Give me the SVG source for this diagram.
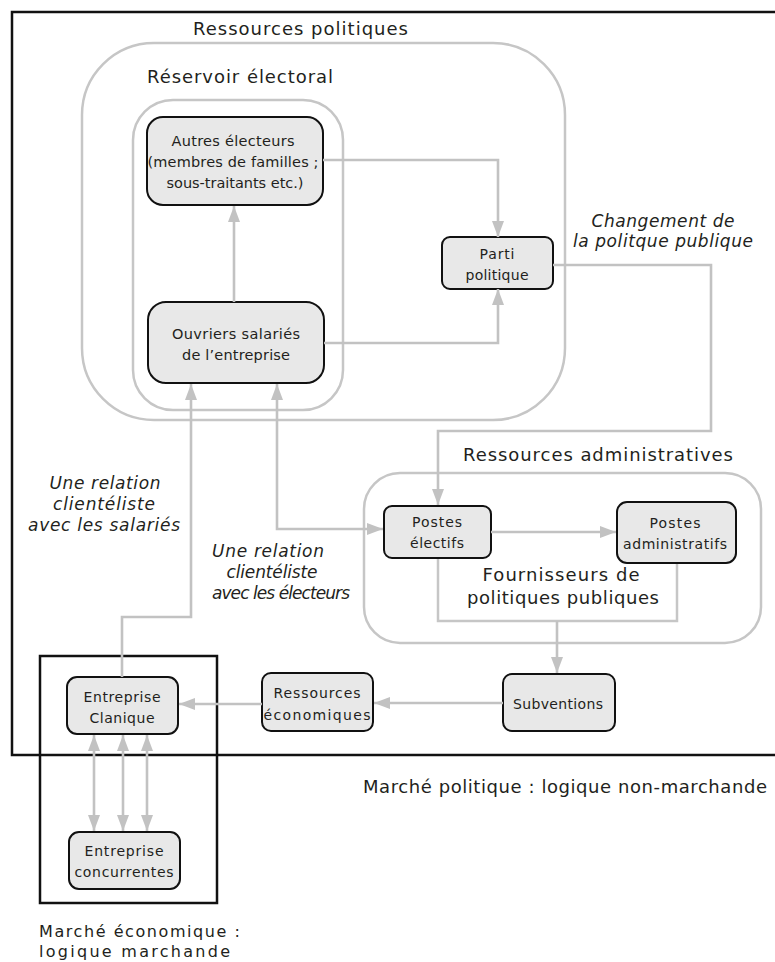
<svg xmlns="http://www.w3.org/2000/svg" width="775" height="962" viewBox="0 0 775 962">
<defs>
<style>
text{font-family:"DejaVu Sans","Liberation Sans",sans-serif;fill:#231f20}
.t{font-size:18px}
.b{font-size:16px}
.n{font-size:14.5px;text-anchor:middle}
.s{font-size:14px;text-anchor:middle}
.i{font-size:17px;font-style:italic;text-anchor:middle}
.frame{fill:none;stroke:#111;stroke-width:2.5}
.zone{fill:none;stroke:#c6c6c6;stroke-width:2.5}
.node{fill:#e8e8e8;stroke:#111;stroke-width:2}
.c{fill:none;stroke:#c2c2c2;stroke-width:2.6;marker-end:url(#ah)}
.d{marker-start:url(#ah)}
</style>
<marker id="ah" viewBox="0 0 16 12" refX="16" refY="6" markerWidth="16" markerHeight="12" markerUnits="userSpaceOnUse" orient="auto-start-reverse">
<path d="M0,0 L16,6 L0,12 z" fill="#c2c2c2"/>
</marker>
</defs>

<g id="frames">
<path class="frame" d="M776,12 H12 V755 H776"/>
<rect class="frame" x="40" y="656" width="177" height="247"/>
<rect id="ressources-politiques" class="zone" x="82" y="43" width="483" height="377" rx="72"/>
<rect id="reservoir" class="zone" x="133" y="100" width="210" height="310" rx="40"/>
<rect id="ressources-admin" class="zone" x="364" y="473" width="397" height="170" rx="36"/>
<path id="fournisseurs" class="zone" d="M438,558 V621 H677 V563"/>
</g>

<g id="labels">
<text class="t" x="193" y="35" textLength="215" lengthAdjust="spacing">Ressources politiques</text>
<text class="t" x="147" y="83" textLength="186" lengthAdjust="spacing">Réservoir électoral</text>
<text class="t" x="463" y="461" textLength="270" lengthAdjust="spacing">Ressources administratives</text>
<text class="t" x="561" y="581" text-anchor="middle" textLength="157" lengthAdjust="spacing">Fournisseurs de</text>
<text class="t" x="563" y="604" text-anchor="middle" textLength="192" lengthAdjust="spacing">politiques publiques</text>
<text class="i" x="663" y="227" textLength="143" lengthAdjust="spacing">Changement de</text>
<text class="i" x="663" y="247" textLength="180" lengthAdjust="spacing">la politque publique</text>
<text class="i" x="105" y="489" textLength="111" lengthAdjust="spacing">Une relation</text>
<text class="i" x="104" y="510" textLength="102" lengthAdjust="spacing">clientéliste</text>
<text class="i" x="104" y="531" textLength="152" lengthAdjust="spacing">avec les salariés</text>
<text class="i" x="268" y="557" textLength="112" lengthAdjust="spacing">Une relation</text>
<text class="i" x="272" y="578" textLength="91" lengthAdjust="spacing">clientéliste</text>
<text class="i" x="281" y="599" textLength="138" lengthAdjust="spacing">avec les électeurs</text>
<text class="t" x="363" y="793" textLength="404" lengthAdjust="spacing">Marché politique : logique non-marchande</text>
<text class="b" x="39" y="937" textLength="201" lengthAdjust="spacing">Marché économique :</text>
<text class="b" x="39" y="957" textLength="191" lengthAdjust="spacing">logique marchande</text>
</g>

<g id="autres-electeurs">
<rect class="node" x="147" y="117" width="176" height="88" rx="16"/>
<text class="n" x="233" y="146" textLength="123" lengthAdjust="spacing">Autres électeurs</text>
<text class="n" x="233" y="167" textLength="171" lengthAdjust="spacing">(membres de familles ;</text>
<text class="n" x="235" y="188" textLength="137" lengthAdjust="spacing">sous-traitants etc.)</text>
</g>

<g id="ouvriers">
<rect class="node" x="148" y="302" width="176" height="81" rx="18"/>
<text class="n" x="236" y="339" textLength="128" lengthAdjust="spacing">Ouvriers salariés</text>
<text class="n" x="236" y="360" textLength="108" lengthAdjust="spacing">de l’entreprise</text>
</g>

<g id="parti">
<rect class="node" x="442" y="237" width="111" height="52" rx="8"/>
<text class="s" x="497" y="259" textLength="35" lengthAdjust="spacing">Parti</text>
<text class="s" x="497" y="280" textLength="63" lengthAdjust="spacing">politique</text>
</g>

<g id="postes-electifs">
<rect class="node" x="384" y="506" width="107" height="52" rx="8"/>
<text class="s" x="437" y="527" textLength="50" lengthAdjust="spacing">Postes</text>
<text class="s" x="437" y="548" textLength="54" lengthAdjust="spacing">électifs</text>
</g>

<g id="postes-administratifs">
<rect class="node" x="617" y="502" width="119" height="61" rx="10"/>
<text class="s" x="675" y="528" textLength="51" lengthAdjust="spacing">Postes</text>
<text class="s" x="675" y="549" textLength="104" lengthAdjust="spacing">administratifs</text>
</g>

<g id="subventions">
<rect class="node" x="503" y="674" width="112" height="57" rx="9"/>
<text class="s" x="558" y="709" textLength="90" lengthAdjust="spacing">Subventions</text>
</g>

<g id="ressources-economiques">
<rect class="node" x="262" y="673" width="111" height="58" rx="9"/>
<text class="s" x="317" y="698" textLength="87" lengthAdjust="spacing">Ressources</text>
<text class="s" x="317" y="720" textLength="107" lengthAdjust="spacing">économiques</text>
</g>

<g id="entreprise-clanique">
<rect class="node" x="67" y="677" width="111" height="57" rx="10"/>
<text class="s" x="122" y="702" textLength="77" lengthAdjust="spacing">Entreprise</text>
<text class="s" x="122" y="723" textLength="65" lengthAdjust="spacing">Clanique</text>
</g>

<g id="entreprise-concurrentes">
<rect class="node" x="69" y="832" width="111" height="57" rx="10"/>
<text class="s" x="124" y="856" textLength="79" lengthAdjust="spacing">Entreprise</text>
<text class="s" x="124" y="877" textLength="99" lengthAdjust="spacing">concurrentes</text>
</g>

<g id="connectors">
<path class="c" d="M234,302 V206"/>
<path class="c" d="M323,160 H498 V237"/>
<path class="c" d="M324,343 H498 V289"/>
<path class="c" d="M553,265 H711 V431 H438 V505"/>
<path class="c" d="M491,532 H616"/>
<path class="c" d="M557,621 V673"/>
<path class="c" d="M503,703 H374"/>
<path class="c" d="M262,704 H179"/>
<path class="c" d="M122,677 V617 H191 V384"/>
<path class="c d" d="M277,384 V529 H383"/>
<path class="c d" d="M94,735 V831"/>
<path class="c d" d="M123,735 V831"/>
<path class="c d" d="M147,735 V831"/>
</g>
</svg>
